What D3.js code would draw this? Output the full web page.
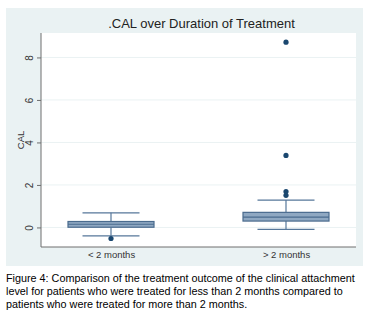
<!DOCTYPE html>
<html>
<head>
<meta charset="utf-8">
<script src="https://cdn.jsdelivr.net/npm/d3@7"></script>
<style>
  body { margin: 0; background: #fff; }
  svg { display: block; font-family: "Liberation Sans", Arial, sans-serif; }
</style>
</head>
<body>
<svg id="chart"></svg>
<script>
const groups = ["< 2 months", "> 2 months"];
const q1 = [0.01, 0.30];
const medians = [0.15, 0.49];
const q3 = [0.28, 0.71];
const whiskLo = [-0.40, -0.09];
const whiskHi = [0.69, 1.29];
const outliers = [[-0.52], [1.51, 1.69, 3.39, 8.72]];
const yTicks = [0, 2, 4, 6, 8];
const captionLines = [
    "Figure 4: Comparison of the treatment outcome of the clinical attachment",
    "level for patients who were treated for less than 2 months compared to",
    "patients who were treated for more than 2 months."
];

const width = 381, height = 322;
const plot = { left: 41, top: 33, right: 356, bottom: 247 };

const svg = d3.select("#chart").attr("width", width).attr("height", height);

// outer panel
svg.append("rect")
    .attr("x", 6).attr("y", 8)
    .attr("width", 357).attr("height", 258)
    .attr("fill", "#eaf2f3");

svg.append("rect")
    .attr("x", plot.left).attr("y", plot.top)
    .attr("width", plot.right - plot.left).attr("height", plot.bottom - plot.top)
    .attr("fill", "#fff");

const x = d3.scalePoint()
    .domain(groups)
    .range([plot.left, plot.right])
    .padding(0.4);

const y = d3.scaleLinear()
    .domain([-0.92, 9.15])
    .range([plot.bottom, plot.top]);

// gridlines
svg.append("g")
    .selectAll("line")
    .data(yTicks)
    .enter().append("line")
    .attr("x1", plot.left).attr("x2", plot.right)
    .attr("y1", d => y(d)).attr("y2", d => y(d))
    .attr("stroke", "#eaf2f3")
    .attr("stroke-width", 1);

// y axis
const yAxis = svg.append("g")
    .attr("transform", `translate(${plot.left},0)`)
    .call(d3.axisLeft(y).tickValues(yTicks).tickSize(4).tickPadding(4));
yAxis.select(".domain").attr("stroke", "#6e6e6e").attr("d", `M0,${plot.top}V${plot.bottom}`);
yAxis.selectAll(".tick line").attr("stroke", "#6e6e6e");
yAxis.selectAll(".tick text")
    .attr("transform", "rotate(-90)")
    .attr("x", 0).attr("y", -8)
    .attr("dy", 0)
    .attr("text-anchor", "middle")
    .attr("fill", "#333")
    .style("font-size", "10px");

svg.append("text")
    .attr("transform", "rotate(-90)")
    .attr("x", -(plot.top + plot.bottom) / 2)
    .attr("y", 24)
    .attr("text-anchor", "middle")
    .attr("fill", "#333")
    .style("font-size", "9.5px")
    .text("CAL");

// x axis
const xAxis = svg.append("g")
    .attr("transform", `translate(0,${plot.bottom})`)
    .call(d3.axisBottom(x).tickSize(0).tickPadding(4));
xAxis.select(".domain").attr("stroke", "#6e6e6e").attr("d", `M${plot.left},0H${plot.right}`);
xAxis.selectAll(".tick text")
    .attr("fill", "#333")
    .style("font-size", "9.5px");

// title
svg.append("text")
    .attr("x", (plot.left + plot.right) / 2 + 3)
    .attr("y", 28)
    .attr("text-anchor", "middle")
    .attr("fill", "#222")
    .style("font-size", "13px")
    .text(".CAL over Duration of Treatment");

// boxes
const boxW = 86, capW = 57;
const stroke = "#56779a";
groups.forEach((g, i) => {
    const cx = x(g);
    const bg = svg.append("g");
    bg.append("line")
        .attr("x1", cx).attr("x2", cx)
        .attr("y1", y(whiskLo[i])).attr("y2", y(q1[i]))
        .attr("stroke", stroke).attr("stroke-width", 1.2);
    bg.append("line")
        .attr("x1", cx).attr("x2", cx)
        .attr("y1", y(q3[i])).attr("y2", y(whiskHi[i]))
        .attr("stroke", stroke).attr("stroke-width", 1.2);
    [whiskLo[i], whiskHi[i]].forEach(v => {
        bg.append("line")
            .attr("x1", cx - capW / 2).attr("x2", cx + capW / 2)
            .attr("y1", y(v)).attr("y2", y(v))
            .attr("stroke", stroke).attr("stroke-width", 1.2);
    });
    bg.append("rect")
        .attr("x", cx - boxW / 2).attr("width", boxW)
        .attr("y", y(q3[i])).attr("height", y(q1[i]) - y(q3[i]))
        .attr("fill", "#8fa8c2")
        .attr("stroke", "#4a6b8e").attr("stroke-width", 1.2);
    bg.append("line")
        .attr("x1", cx - boxW / 2).attr("x2", cx + boxW / 2)
        .attr("y1", y(medians[i])).attr("y2", y(medians[i]))
        .attr("stroke", "#4a6b8e").attr("stroke-width", 1.2);
    bg.selectAll("circle")
        .data(outliers[i])
        .enter().append("circle")
        .attr("cx", cx).attr("cy", d => y(d))
        .attr("r", 2.6)
        .attr("fill", "#1a476f");
});

// caption
svg.append("g")
    .selectAll("text")
    .data(captionLines)
    .enter().append("text")
    .attr("x", 6)
    .attr("y", (d, i) => 282 + i * 13)
    .attr("fill", "#000")
    .style("font-size", "10.8px")
    .text(d => d);
</script>
</body>
</html>
